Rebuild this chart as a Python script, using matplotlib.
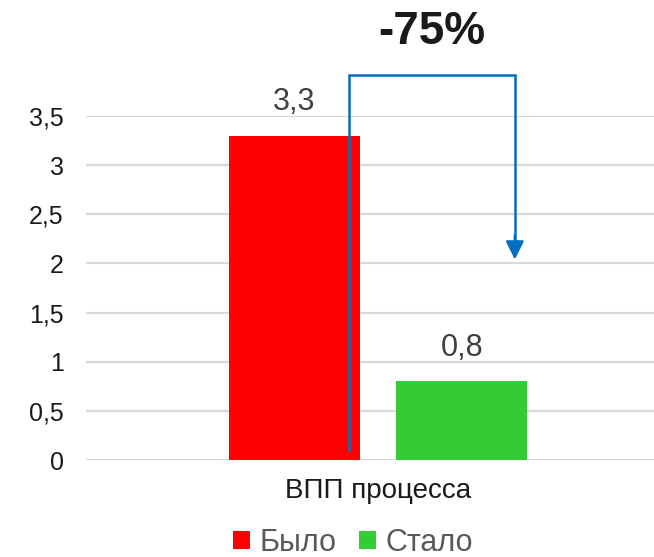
import matplotlib
matplotlib.use("Agg")
import matplotlib.pyplot as plt
from matplotlib.patches import Patch
from matplotlib.ticker import FuncFormatter, MultipleLocator

plt.rcParams["font.family"] = ["Liberation Sans", "DejaVu Sans"]

categories = ["ВПП процесса"]
series_names = ["Было", "Стало"]
values_before = [3.3]
values_after = [0.8]
colors = ["#FF0000", "#33CC33"]
change_label = "-75%"


def comma(v, _pos=None):
    return f"{v:g}".replace(".", ",")


fig = plt.figure(figsize=(6.54, 5.57), dpi=100)
ax = fig.add_axes([86 / 654, 1 - 460 / 557, 568 / 654, 344 / 557])

bar_w = 0.2306
offset = 0.1475
x0 = 0
ax.bar(x0 - offset, values_before[0], width=bar_w, color=colors[0], zorder=2)
ax.bar(x0 + offset, values_after[0], width=bar_w, color=colors[1], zorder=2)

for xc, v in [(x0 - offset, values_before[0]), (x0 + offset, values_after[0])]:
    ax.text(xc, v + 0.19, comma(v), ha="center", va="bottom",
            fontsize=22, color="#404040")

ax.set_xlim(-0.514, 0.486)
ax.set_ylim(0, 3.5)
ax.yaxis.set_major_locator(MultipleLocator(0.5))
ax.yaxis.set_major_formatter(FuncFormatter(comma))
ax.set_xticks([x0])
ax.set_xticklabels(categories)
ax.tick_params(axis="y", length=0, pad=16, labelsize=18, labelcolor="#1a1a1a")
ax.tick_params(axis="x", length=0, pad=13, labelsize=20, labelcolor="#1a1a1a")
ax.grid(axis="y", color="#d9d9d9", linewidth=1.6, zorder=0)
for s in ax.spines.values():
    s.set_visible(False)

# bracket arrow from "Было" to "Стало"
ax_l, ax_r = -0.051, 0.241
y_low, y_top, y_tip = 0.10, 3.92, 2.04
ax.plot([ax_l, ax_l, ax_r, ax_r], [y_low, y_top, y_top, y_tip + 0.12],
        color="#0070C0", linewidth=1.8, clip_on=False, zorder=4,
        solid_joinstyle="miter")
ax.annotate("", xy=(ax_r, y_tip), xytext=(ax_r, y_tip + 0.25),
            arrowprops=dict(arrowstyle="-|>,head_length=1.1,head_width=0.55",
                            color="#0070C0", lw=1.8, shrinkA=0, shrinkB=0),
            annotation_clip=False, zorder=5)

fig.text(432 / 654, 1 - 32 / 557, change_label, ha="center", va="center",
         fontsize=33, fontweight="bold", color="#1a1a1a")

handles = [Patch(facecolor=c, edgecolor="none") for c in colors]
fig.legend(handles, series_names, loc="center", ncol=2,
           bbox_to_anchor=(353 / 654, 1 - 543 / 557), frameon=False,
           fontsize=22, labelcolor="#595959", handlelength=0.55,
           handleheight=0.55, handletextpad=0.3, columnspacing=0.75,
           borderpad=0, borderaxespad=0)

fig.savefig("out.png", dpi=100)
